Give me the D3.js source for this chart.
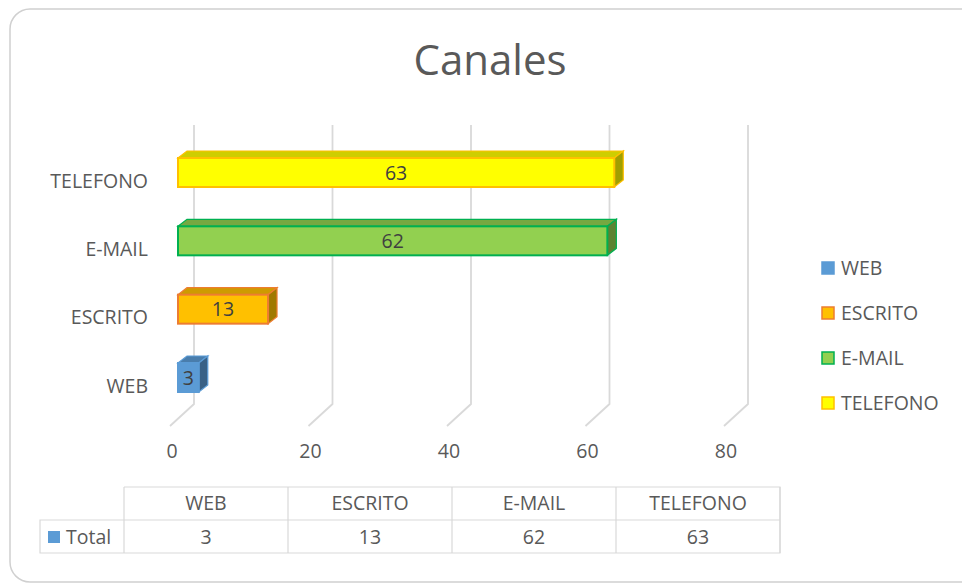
<!DOCTYPE html>
<html>
<head>
<meta charset="utf-8">
<script src="https://cdn.jsdelivr.net/npm/d3@7"></script>
<style>
  body { margin: 0; background: #fff; }
  svg text { font-family: "Open Sans", sans-serif; fill: #404040; }
</style>
</head>
<body>
<div id="chart"></div>
<script>
"use strict";

// data
var categories = ["WEB", "ESCRITO", "E-MAIL", "TELEFONO"];
var values = [3, 13, 62, 63];
var xTicks = [0, 20, 40, 60, 80];
var fills = ["#5B9BD5", "#FFC000", "#92D050", "#FFFF00"];
var strokes = ["#5B9BD5", "#ED7D31", "#00B050", "#FFC000"];
var seriesName = "Total";

var width = 962, height = 586;
var fs = "19.5px";
var svg = d3.select("#chart").append("svg")
    .attr("width", width).attr("height", height);

// card border
svg.append("rect")
    .attr("x", 10).attr("y", 9)
    .attr("width", 970).attr("height", 573)
    .attr("rx", 20).attr("ry", 20)
    .attr("fill", "#fff")
    .attr("stroke", "#d0d0d0").attr("stroke-width", 1.5);

svg.append("text")
    .attr("x", 490).attr("y", 75)
    .attr("text-anchor", "middle")
    .style("font-size", "42px")
    .style("fill", "#595959")
    .text("Canales");

var x = d3.scaleLinear().domain([0, 80]).range([178, 732]);
// TELEFONO on top
var y = d3.scalePoint().domain(categories.slice().reverse()).range([172.5, 377.5]);
var barH = 29, dx = 9, dy = -7;

// gridlines (back wall + floor diagonal)
var grid = svg.append("g");
xTicks.forEach(function (t) {
    var bx = x(t) + 16;
    grid.append("path")
        .attr("d", "M" + bx + ",125 L" + bx + ",404 L" + (x(t) - 8) + ",426")
        .attr("fill", "none")
        .attr("stroke", "#d9d9d9")
        .attr("stroke-width", 1.8);
    grid.append("text")
        .attr("x", x(t) - 6).attr("y", 458)
        .attr("text-anchor", "middle")
        .style("font-size", fs)
        .style("fill", "#595959")
        .text(t);
});

// category labels
categories.forEach(function (c) {
    svg.append("text")
        .attr("x", 148).attr("y", y(c) + 15)
        .attr("text-anchor", "end")
        .style("font-size", fs)
        .style("fill", "#595959")
        .text(c);
});

// 3d bars
var bars = svg.append("g");
categories.forEach(function (c, i) {
    var x0 = x(0), x1 = x(values[i]);
    var top = y(c) - barH / 2, bot = top + barH;
    var base = d3.color(fills[i]);
    var g = bars.append("g");
    // top face
    g.append("path")
        .attr("d", "M" + x0 + "," + top + " L" + (x0 + dx) + "," + (top + dy) +
            " L" + (x1 + dx) + "," + (top + dy) + " L" + x1 + "," + top + "Z")
        .attr("fill", base.darker(0.6))
        .attr("stroke", strokes[i]).attr("stroke-width", 1.2);
    // side face
    g.append("path")
        .attr("d", "M" + x1 + "," + top + " L" + (x1 + dx) + "," + (top + dy) +
            " L" + (x1 + dx) + "," + (bot + dy) + " L" + x1 + "," + bot + "Z")
        .attr("fill", base.darker(1.3))
        .attr("stroke", strokes[i]).attr("stroke-width", 1.2);
    // front face
    g.append("rect")
        .attr("x", x0).attr("y", top)
        .attr("width", x1 - x0).attr("height", barH)
        .attr("fill", fills[i])
        .attr("stroke", strokes[i]).attr("stroke-width", 2);
    g.append("text")
        .attr("x", (x0 + x1) / 2).attr("y", top + barH / 2 + 7)
        .attr("text-anchor", "middle")
        .style("font-size", fs)
        .text(values[i]);
});

// legend
var legend = svg.append("g");
categories.forEach(function (c, i) {
    var ly = 268 + i * 45;
    legend.append("rect")
        .attr("x", 822).attr("y", ly - 6)
        .attr("width", 12).attr("height", 12)
        .attr("fill", fills[i])
        .attr("stroke", strokes[i]).attr("stroke-width", 1.5);
    legend.append("text")
        .attr("x", 841).attr("y", ly + 7)
        .style("font-size", fs)
        .style("fill", "#595959")
        .text(c);
});

// data table
var col = d3.scaleBand().domain(categories).range([124, 780]);
var t0 = 487, rowH = 33;
var table = svg.append("g")
    .attr("stroke", "#d9d9d9").attr("stroke-width", 1.2).attr("fill", "none");
table.append("path")
    .attr("d", "M124," + t0 + " H780 V" + (t0 + 2 * rowH) + " H40 V" + (t0 + rowH) + " H780" +
        " M124," + t0 + " V" + (t0 + 2 * rowH));
categories.forEach(function (c) {
    table.append("line")
        .attr("x1", col(c) + col.bandwidth()).attr("x2", col(c) + col.bandwidth())
        .attr("y1", t0).attr("y2", t0 + 2 * rowH);
});
categories.forEach(function (c, i) {
    var cx = col(c) + col.bandwidth() / 2;
    svg.append("text")
        .attr("x", cx).attr("y", t0 + 23)
        .attr("text-anchor", "middle")
        .style("font-size", fs)
        .style("fill", "#595959")
        .text(c);
    svg.append("text")
        .attr("x", cx).attr("y", t0 + rowH + 24)
        .attr("text-anchor", "middle")
        .style("font-size", fs)
        .style("fill", "#595959")
        .text(values[i]);
});
svg.append("rect")
    .attr("x", 48).attr("y", t0 + rowH + 11)
    .attr("width", 12).attr("height", 12)
    .attr("fill", fills[0]);
svg.append("text")
    .attr("x", 66).attr("y", t0 + rowH + 24)
    .style("font-size", fs)
    .style("fill", "#595959")
    .text(seriesName);
</script>
</body>
</html>
